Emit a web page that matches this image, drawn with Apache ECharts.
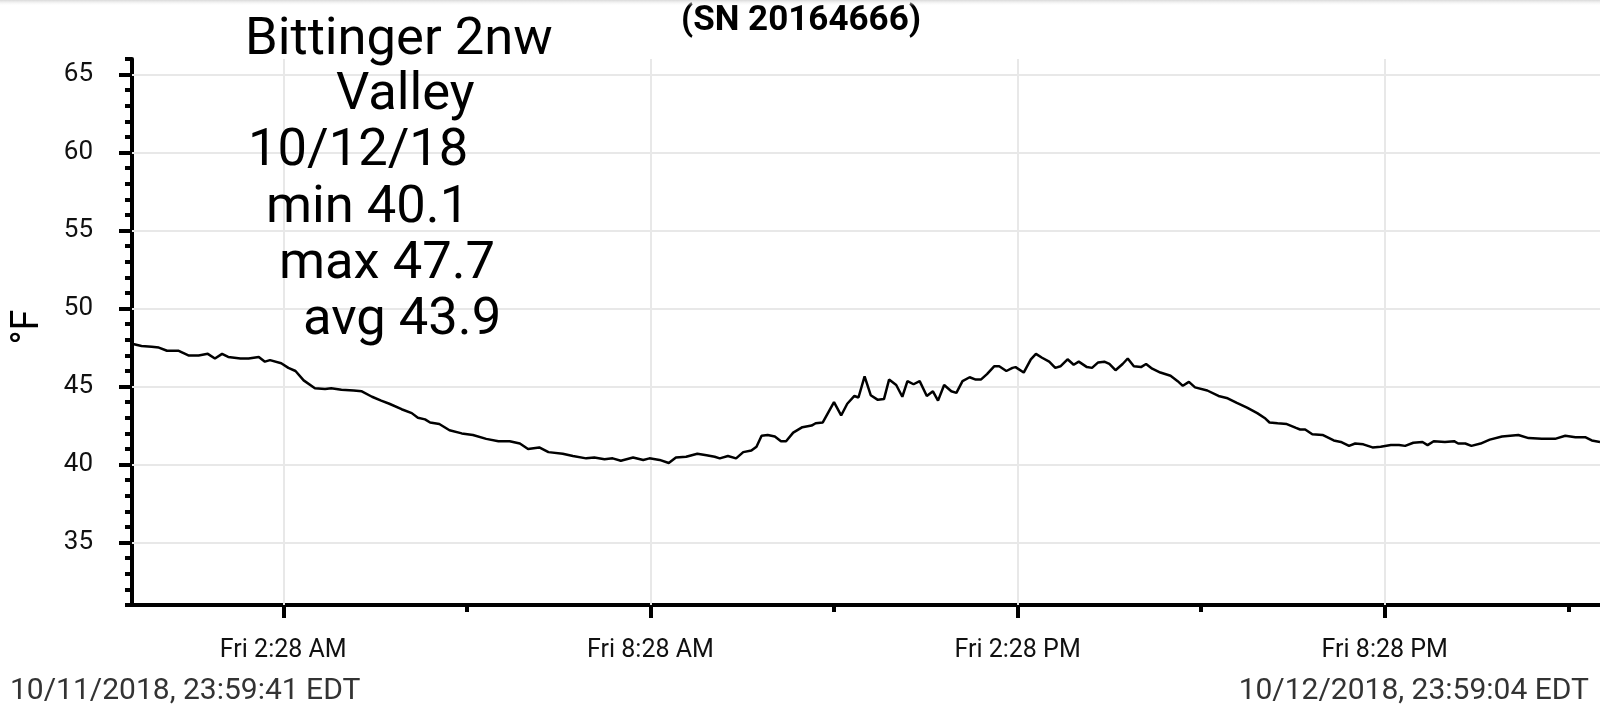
<!DOCTYPE html>
<html>
<head>
<meta charset="utf-8">
<script src="https://cdn.jsdelivr.net/npm/echarts@6/dist/echarts.min.js"></script>
<style>
html,body{margin:0;padding:0;background:#fff;}
#chart{width:1600px;height:719px;}
</style>
</head>
<body>
<div id="chart"></div>
<script>
// ---- data ----
const titleText = "(SN 20164666)";
const noteLines = ["Bittinger 2nw", "Valley", "10/12/18", "min 40.1", "max 47.7", "avg 43.9"];
const yAxisName = "°F";
const startLabel = "10/11/2018, 23:59:41 EDT";
const endLabel = "10/12/2018, 23:59:04 EDT";

const yMin = 31;
const yMax = 66;
const yMajorTicks = [35, 40, 45, 50, 55, 60, 65];

const xMajorTicks = ["10/12 02:28", "10/12 08:28", "10/12 14:28", "10/12 20:28"];
const xMajorLabels = ["Fri 2:28 AM", "Fri 8:28 AM", "Fri 2:28 PM", "Fri 8:28 PM"];
const xMinorTicks = ["10/12 05:28", "10/12 11:28", "10/12 17:28", "10/12 23:28"];

const times = [
"10/11 23:59:41","10/12 00:09","10/12 00:19","10/12 00:26","10/12 00:34","10/12 00:45","10/12 00:55","10/12 01:05",
"10/12 01:14","10/12 01:21","10/12 01:28","10/12 01:34","10/12 01:46","10/12 01:54","10/12 02:04","10/12 02:10",
"10/12 02:15","10/12 02:26","10/12 02:33","10/12 02:40","10/12 02:48","10/12 02:59","10/12 03:09","10/12 03:15",
"10/12 03:25","10/12 03:37","10/12 03:45","10/12 03:55","10/12 04:04","10/12 04:12","10/12 04:24","10/12 04:34",
"10/12 04:40","10/12 04:47","10/12 04:52","10/12 05:01","10/12 05:11","10/12 05:23","10/12 05:34","10/12 05:47",
"10/12 05:59","10/12 06:10","10/12 06:20","10/12 06:28","10/12 06:39","10/12 06:48","10/12 07:02","10/12 07:12",
"10/12 07:25","10/12 07:33","10/12 07:43","10/12 07:51","10/12 07:59","10/12 08:11","10/12 08:21","10/12 08:27",
"10/12 08:37","10/12 08:46","10/12 08:53","10/12 09:03","10/12 09:14","10/12 09:23","10/12 09:31","10/12 09:36",
"10/12 09:44","10/12 09:52","10/12 09:59","10/12 10:07","10/12 10:12","10/12 10:17","10/12 10:23","10/12 10:30",
"10/12 10:36","10/12 10:41","10/12 10:48","10/12 10:57","10/12 11:06","10/12 11:10","10/12 11:17","10/12 11:28",
"10/12 11:35","10/12 11:41","10/12 11:48","10/12 11:52","10/12 11:58","10/12 12:04","10/12 12:11","10/12 12:17",
"10/12 12:22","10/12 12:29","10/12 12:35","10/12 12:40","10/12 12:46","10/12 12:52","10/12 12:59","10/12 13:05",
"10/12 13:10","10/12 13:16","10/12 13:23","10/12 13:28","10/12 13:34","10/12 13:41","10/12 13:47","10/12 13:52",
"10/12 13:58","10/12 14:05","10/12 14:10","10/12 14:17","10/12 14:23","10/12 14:26","10/12 14:34","10/12 14:41",
"10/12 14:46","10/12 14:52","10/12 14:59","10/12 15:05","10/12 15:10","10/12 15:17","10/12 15:23","10/12 15:28",
"10/12 15:36","10/12 15:41","10/12 15:47","10/12 15:53","10/12 15:58","10/12 16:04","10/12 16:11","10/12 16:16",
"10/12 16:22","10/12 16:29","10/12 16:34","10/12 16:40","10/12 16:48","10/12 16:58","10/12 17:05","10/12 17:10",
"10/12 17:16","10/12 17:22","10/12 17:34","10/12 17:45","10/12 17:54","10/12 18:03","10/12 18:13","10/12 18:23",
"10/12 18:31","10/12 18:35","10/12 18:43","10/12 18:52","10/12 19:01","10/12 19:05","10/12 19:10","10/12 19:17",
"10/12 19:27","10/12 19:38","10/12 19:45","10/12 19:53","10/12 19:59","10/12 20:07","10/12 20:16","10/12 20:24",
"10/12 20:34","10/12 20:42","10/12 20:48","10/12 20:56","10/12 21:05","10/12 21:10","10/12 21:16","10/12 21:27",
"10/12 21:36","10/12 21:40","10/12 21:47","10/12 21:53","10/12 22:02","10/12 22:11","10/12 22:23","10/12 22:39",
"10/12 22:49","10/12 23:02","10/12 23:15","10/12 23:25","10/12 23:35","10/12 23:45","10/12 23:51","10/12 23:59:04"
];

const temps = [
47.75,47.6,47.55,47.5,47.3,47.3,47.0,47.0,
47.1,46.8,47.1,46.9,46.8,46.8,46.9,46.6,
46.7,46.5,46.2,46.0,45.4,44.9,44.85,44.9,
44.8,44.75,44.7,44.35,44.1,43.9,43.55,43.3,
43.0,42.9,42.7,42.6,42.2,42.0,41.9,41.65,
41.5,41.5,41.35,41.0,41.1,40.8,40.7,40.55,
40.4,40.45,40.35,40.4,40.25,40.45,40.3,40.4,
40.3,40.1,40.45,40.5,40.7,40.6,40.5,40.4,
40.55,40.4,40.8,40.9,41.15,41.85,41.9,41.8,
41.5,41.5,42.05,42.4,42.5,42.65,42.7,44.0,
43.15,43.9,44.4,44.3,45.65,44.45,44.15,44.2,
45.45,45.1,44.35,45.35,45.15,45.35,44.4,44.7,
44.1,45.1,44.7,44.6,45.35,45.6,45.45,45.45,
45.8,46.3,46.3,46.0,46.2,46.25,45.9,46.75,
47.1,46.85,46.6,46.2,46.3,46.75,46.4,46.6,
46.25,46.2,46.55,46.6,46.45,46.05,46.45,46.8,
46.3,46.25,46.45,46.15,45.9,45.7,45.35,45.05,
45.3,44.95,44.75,44.4,44.25,43.95,43.65,43.3,
42.95,42.7,42.65,42.6,42.35,42.25,42.25,41.95,
41.9,41.55,41.45,41.2,41.35,41.3,41.1,41.15,
41.25,41.25,41.2,41.4,41.45,41.25,41.5,41.45,
41.5,41.35,41.35,41.2,41.35,41.6,41.8,41.9,
41.7,41.65,41.65,41.85,41.75,41.75,41.55,41.45
];

// ---- helpers ----
function toMinutes(s) {
  const m = s.match(/(\d+)\/(\d+) (\d+):(\d+)(?::(\d+))?/);
  const day = +m[2], h = +m[3], mi = +m[4], sec = m[5] ? +m[5] : 0;
  return (day - 12) * 1440 + h * 60 + mi + sec / 60;
}
const seriesData = times.map((t, i) => [toMinutes(t), temps[i]]);
const xMin = toMinutes(times[0]);
const xMax = toMinutes(times[times.length - 1]);
const majorVals = xMajorTicks.map(toMinutes);
const minorVals = xMinorTicks.map(toMinutes);

const FONT = 'Roboto, "Noto Sans", sans-serif';

const chart = echarts.init(document.getElementById('chart'), null, {renderer: 'canvas'});

const noteX = [245, 336, 248, 266, 279, 303];
const noteY = [41, 96, 152, 209, 265, 321];

const graphics = [
  {type: 'rect', left: 0, top: 0, z: 10, shape: {width: 1600, height: 6},
   style: {fill: new echarts.graphic.LinearGradient(0, 0, 0, 1, [{offset: 0, color: '#d9d9d9'}, {offset: 1, color: 'rgba(255,255,255,0)'}])}},
  {type: 'text', x: 801, y: 21, style: {text: titleText, font: 'bold 35px ' + FONT, fill: '#000', align: 'center', verticalAlign: 'middle'}},
  {type: 'text', x: 28, y: 327, rotation: Math.PI / 2, style: {text: yAxisName, font: '38px ' + FONT, fill: '#000', align: 'center', verticalAlign: 'middle'}},
  {type: 'text', x: 10, y: 691, style: {text: startLabel, font: '30px ' + FONT, fill: '#333', align: 'left', verticalAlign: 'middle'}},
  {type: 'text', x: 1589, y: 691, style: {text: endLabel, font: '30px ' + FONT, fill: '#333', align: 'right', verticalAlign: 'middle'}}
];
noteLines.forEach((t, i) => {
  graphics.push({type: 'text', x: noteX[i], y: noteY[i], z: 20,
    style: {text: t, font: '52.5px ' + FONT, fill: '#000', align: 'left', verticalAlign: 'middle'}});
});

const gridLineStyle = {color: '#e8e8e8', width: 2, type: 'solid'};

const option = {
  animation: false,
  backgroundColor: '#fff',
  grid: {left: 132, top: 59, width: 1470, height: 546, containLabel: false},
  xAxis: [
    {
      type: 'value', min: xMin, max: xMax, position: 'bottom',
      axisLine: {show: true, onZero: false, lineStyle: {color: '#000', width: 4}},
      axisTick: {show: true, customValues: majorVals, length: 13, lineStyle: {color: '#000', width: 4}},
      axisLabel: {show: true, customValues: majorVals, margin: 33, fontSize: 25, fontFamily: FONT, color: '#111',
        formatter: function (v) { const i = majorVals.findIndex(m => Math.abs(m - v) < 0.01); return i >= 0 ? xMajorLabels[i] : ''; }},
      splitLine: {show: false}
    },
    {
      type: 'value', min: xMin, max: xMax, position: 'bottom',
      axisLine: {show: false, onZero: false},
      axisTick: {show: true, customValues: minorVals, length: 7, lineStyle: {color: '#000', width: 4}},
      axisLabel: {show: false},
      splitLine: {show: false}
    }
  ],
  yAxis: [
    {
      type: 'value', min: yMin, max: yMax, interval: 1, position: 'left',
      axisLine: {show: true, onZero: false, lineStyle: {color: '#000', width: 4}},
      axisTick: {show: true, length: 7, lineStyle: {color: '#000', width: 4}},
      axisLabel: {show: true, customValues: yMajorTicks, margin: 39, fontSize: 26, fontFamily: FONT, color: '#111'},
      splitLine: {show: false}
    },
    {
      type: 'value', min: yMin, max: yMax, position: 'left',
      axisLine: {show: false, onZero: false},
      axisTick: {show: true, customValues: yMajorTicks, length: 13, lineStyle: {color: '#000', width: 4}},
      axisLabel: {show: false},
      splitLine: {show: false}
    }
  ],
  series: [
    {
      type: 'line', xAxisIndex: 0, yAxisIndex: 0, data: [], z: 1, silent: true,
      markLine: {
        silent: true, symbol: 'none', animation: false, label: {show: false},
        lineStyle: gridLineStyle,
        data: yMajorTicks.map(v => ({yAxis: v})).concat(majorVals.map(v => ({xAxis: v})))
      }
    },
    {
      type: 'line', xAxisIndex: 0, yAxisIndex: 0, data: seriesData, z: 5,
      showSymbol: false, symbol: 'none', smooth: false,
      lineStyle: {color: '#000', width: 2.5}
    }
  ],
  graphic: graphics
};
chart.setOption(option);
</script>
</body>
</html>
